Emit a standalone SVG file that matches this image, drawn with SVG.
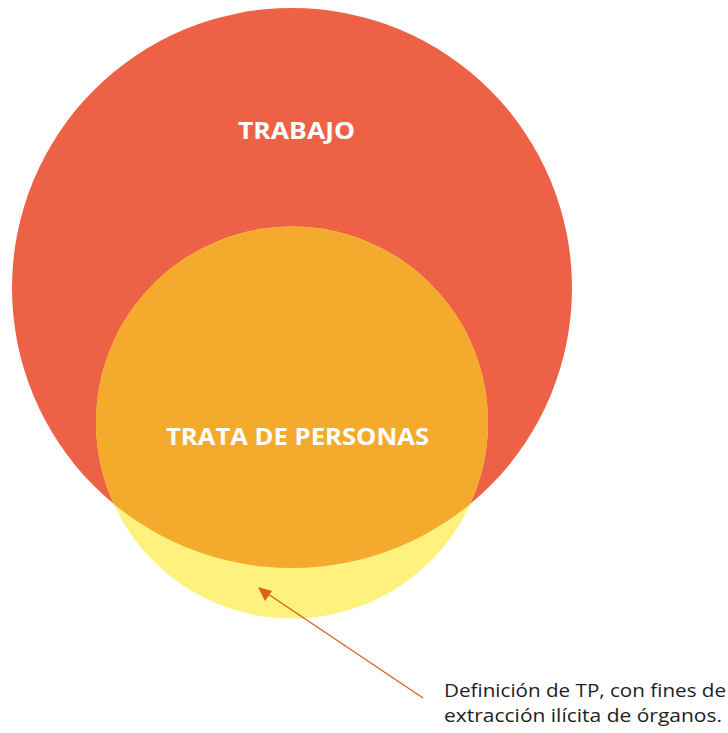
<svg xmlns="http://www.w3.org/2000/svg" width="728" height="733" viewBox="0 0 728 733">
<style>
.lbl{font-family:"Open Sans","Liberation Sans",sans-serif;font-weight:bold;fill:#fff;font-size:24px}
.note{font-family:"Open Sans","Noto Sans","Liberation Sans",sans-serif;fill:#1e1e1e;font-size:18px}
</style>
<defs>
<clipPath id="redClip"><circle cx="292" cy="288" r="280"/></clipPath>
</defs>
<g id="trabajo">
<circle cx="292" cy="288" r="280" fill="#ED6246"/>
<text class="lbl" x="238" y="139" textLength="117" lengthAdjust="spacingAndGlyphs">TRABAJO</text>
</g>
<g id="organos">
<circle cx="292" cy="422.5" r="196" fill="#FEF17D"/>
</g>
<g id="trata">
<circle cx="292" cy="422.5" r="196" fill="#F4AA2C" clip-path="url(#redClip)"/>
<text class="lbl" x="166" y="445" textLength="263" lengthAdjust="spacingAndGlyphs">TRATA DE PERSONAS</text>
</g>
<g id="connectors">
<line x1="423" y1="698" x2="262" y2="590" stroke="#D9601A" stroke-width="1.3"/>
<path d="M258,587 L272,591 L265,601 Z" fill="#D9601A"/>
</g>
<g id="nota">
<text class="note" x="444" y="697" textLength="282" lengthAdjust="spacingAndGlyphs">Definición de TP, con fines de</text>
<text class="note" x="444" y="722" textLength="278" lengthAdjust="spacingAndGlyphs">extracción ilícita de órganos.</text>
</g>
</svg>
